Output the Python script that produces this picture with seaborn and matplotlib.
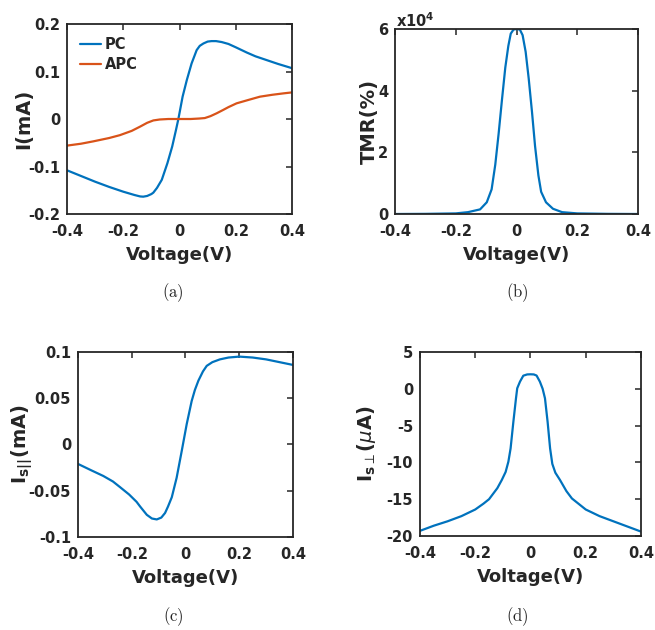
import numpy as np
import pandas as pd
import matplotlib
matplotlib.use("Agg")
import matplotlib.pyplot as plt
import seaborn as sns

# ---- data -------------------------------------------------------------
# (a) I-V characteristics, parallel (PC) / antiparallel (APC) configurations
pc_v = [-0.4, -0.35, -0.3, -0.25, -0.2, -0.16, -0.14, -0.129, -0.115, -0.1, -0.093,
        -0.08, -0.063, -0.043, -0.026, -0.0125, -0.004, 0.011, 0.026, 0.043, 0.061,
        0.072, 0.085, 0.1, 0.114, 0.13, 0.15, 0.174, 0.2, 0.239, 0.27, 0.31, 0.35, 0.4]
pc_i = [-0.108, -0.120, -0.132, -0.143, -0.153, -0.160, -0.163, -0.1635, -0.162, -0.158, -0.155,
        -0.145, -0.128, -0.093, -0.058, -0.023, 0.0, 0.047, 0.082, 0.117, 0.145,
        0.154, 0.159, 0.163, 0.164, 0.164, 0.162, 0.158, 0.151, 0.140, 0.132, 0.124, 0.116, 0.107]
apc_v = [-0.4, -0.35, -0.306, -0.25, -0.212, -0.17, -0.14, -0.115, -0.093, -0.07, -0.04,
         0.0, 0.04, 0.07, 0.09, 0.11, 0.132, 0.155, 0.174, 0.203, 0.25, 0.286, 0.33, 0.37, 0.4]
apc_i = [-0.056, -0.052, -0.047, -0.040, -0.034, -0.025, -0.016, -0.008, -0.003, -0.001, 0.0,
         0.0, 0.0, 0.001, 0.002, 0.006, 0.012, 0.019, 0.025, 0.033, 0.041, 0.047, 0.051, 0.054, 0.056]

# (b) tunnelling magnetoresistance, in units of 1e4 %
tmr_v = [-0.4, -0.3, -0.2, -0.16, -0.12, -0.098, -0.082, -0.07, -0.059, -0.048, -0.037,
         -0.027, -0.019, -0.01, 0.0, 0.011, 0.02, 0.03, 0.04, 0.051, 0.061, 0.072,
         0.081, 0.097, 0.12, 0.15, 0.2, 0.3, 0.4]
tmr_val = [0.0, 0.005, 0.02, 0.06, 0.15, 0.38, 0.8, 1.6, 2.6, 3.7, 4.75,
           5.45, 5.85, 5.98, 6.0, 5.98, 5.8, 5.26, 4.4, 3.3, 2.2, 1.25,
           0.72, 0.38, 0.17, 0.06, 0.02, 0.005, 0.0]

# (c) in-plane spin current (mA)
par_v = [-0.4, -0.35, -0.306, -0.27, -0.244, -0.21, -0.182, -0.169, -0.144, -0.125, -0.107,
         -0.09, -0.076, -0.065, -0.051, -0.033, -0.014, 0.0045, 0.023, 0.035, 0.048, 0.065,
         0.079, 0.1, 0.128, 0.16, 0.2, 0.25, 0.3, 0.35, 0.4]
par_i = [-0.021, -0.028, -0.034, -0.040, -0.046, -0.054, -0.062, -0.067, -0.076, -0.080, -0.081,
         -0.079, -0.074, -0.067, -0.057, -0.036, -0.007, 0.022, 0.047, 0.059, 0.069, 0.079,
         0.085, 0.089, 0.092, 0.094, 0.095, 0.094, 0.092, 0.089, 0.086]

# (d) out-of-plane spin current (uA)
perp_v = [-0.4, -0.35, -0.3, -0.25, -0.2, -0.17, -0.15, -0.12, -0.104, -0.09, -0.08, -0.072,
          -0.062, -0.0525, -0.048, -0.038, -0.026, -0.012, 0.0, 0.012, 0.022, 0.034, 0.044,
          0.0525, 0.062, 0.071, 0.079, 0.09, 0.107, 0.13, 0.15, 0.2, 0.25, 0.3, 0.35, 0.4]
perp_i = [-19.3, -18.6, -18.0, -17.3, -16.4, -15.6, -15.0, -13.5, -12.4, -11.3, -9.9, -8.1,
          -4.5, -1.3, 0.07, 0.97, 1.78, 1.95, 1.97, 1.95, 1.8, 0.97, 0.0,
          -1.3, -4.5, -8.1, -10.2, -11.4, -12.4, -13.9, -14.9, -16.4, -17.3, -18.0, -18.7, -19.4]

volt_ticks = [-0.4, -0.2, 0, 0.2, 0.4]
volt_ticklabels = ["-0.4", "-0.2", "0", "0.2", "0.4"]

BLUE = "#0072BD"
ORANGE = "#D95319"
INK = "#262626"

sns.set_theme(style="white")
plt.rcParams.update({
    "font.family": ["DejaVu Sans"],
    "axes.edgecolor": INK,
    "axes.linewidth": 1.3,
    "xtick.color": INK,
    "ytick.color": INK,
    "xtick.direction": "in",
    "ytick.direction": "in",
    "xtick.major.size": 4,
    "ytick.major.size": 4,
    "xtick.major.width": 1.1,
    "ytick.major.width": 1.1,
    "xtick.labelsize": 10.5,
    "ytick.labelsize": 10.5,
    "xtick.major.pad": 7.5,
    "ytick.major.pad": 5,
    "mathtext.fontset": "dejavusans",
})

fig = plt.figure(figsize=(6.55, 6.30), dpi=100)

ax_a = fig.add_axes([0.1023, 0.6603, 0.3435, 0.3016])
ax_b = fig.add_axes([0.6031, 0.6603, 0.3710, 0.2937])
ax_c = fig.add_axes([0.1191, 0.1476, 0.3282, 0.2937])
ax_d = fig.add_axes([0.6412, 0.1492, 0.3374, 0.2921])


def style(ax, yticks, yticklabels, ylim):
    ax.set_xlim(-0.4, 0.4)
    ax.set_ylim(*ylim)
    ax.set_xticks(volt_ticks)
    ax.set_xticklabels(volt_ticklabels, fontweight="bold")
    ax.set_yticks(yticks)
    ax.set_yticklabels(yticklabels, fontweight="bold")
    ax.tick_params(top=True, right=True)
    for s in ax.spines.values():
        s.set_visible(True)
        s.set_color(INK)
    ax.set_xlabel("Voltage(V)", fontsize=13, fontweight="bold", color=INK, labelpad=5)


# (a)
df_a = pd.DataFrame({"V": pc_v + apc_v, "I": pc_i + apc_i,
                     "cfg": ["PC"] * len(pc_v) + ["APC"] * len(apc_v)})
sns.lineplot(data=df_a, x="V", y="I", hue="cfg", palette={"PC": BLUE, "APC": ORANGE},
             linewidth=1.6, ax=ax_a, sort=True)
style(ax_a, [-0.2, -0.1, 0, 0.1, 0.2], ["-0.2", "-0.1", "0", "0.1", "0.2"], (-0.2, 0.2))
ax_a.set_ylabel("I(mA)", fontsize=14, fontweight="bold", color=INK, labelpad=-3.5)
leg = ax_a.legend(loc="upper left", frameon=False, handlelength=1.4,
                  handletextpad=0.3, labelspacing=0.35, borderaxespad=0.5,
                  prop={"weight": "bold", "size": 10.5})
for t in leg.get_texts():
    t.set_color(INK)

# (b)
sns.lineplot(x=tmr_v, y=tmr_val, color=BLUE, linewidth=1.6, ax=ax_b)
style(ax_b, [0, 2, 4, 6], ["0", "2", "4", "6"], (0, 6))
ax_b.set_ylabel("TMR(%)", fontsize=14, fontweight="bold", color=INK, labelpad=-1)
ax_b.text(0.005, 0.995, r"x10$^\mathbf{4}$", transform=ax_b.transAxes, ha="left",
          va="bottom", fontsize=10.5, fontweight="bold", color=INK)

# (c)
sns.lineplot(x=par_v, y=par_i, color=BLUE, linewidth=1.6, ax=ax_c)
style(ax_c, [-0.1, -0.05, 0, 0.05, 0.1], ["-0.1", "-0.05", "0", "0.05", "0.1"], (-0.1, 0.1))
ax_c.set_ylabel(r"$\mathbf{I}_{\mathbf{s||}}\mathbf{(mA)}$", fontsize=14, color=INK,
                labelpad=-3.5)

# (d)
sns.lineplot(x=perp_v, y=perp_i, color=BLUE, linewidth=1.6, ax=ax_d)
style(ax_d, [-20, -15, -10, -5, 0, 5], ["-20", "-15", "-10", "-5", "0", "5"], (-20, 5))
ax_d.set_ylabel(r"$\mathbf{I}_{\mathbf{s}\perp}\mathbf{(}\mu\mathbf{A)}$", fontsize=14,
                color=INK, labelpad=6)

# panel captions
for x, y, lab in [(173, 293, "(a)"), (517, 293, "(b)"), (173, 617, "(c)"), (517, 617, "(d)")]:
    fig.text(x / 655, 1 - y / 630, r"$\mathrm{" + lab + "}$", ha="center", va="center",
             fontsize=12, math_fontfamily="cm", color="#222222")

fig.savefig("out.png", dpi=100)
